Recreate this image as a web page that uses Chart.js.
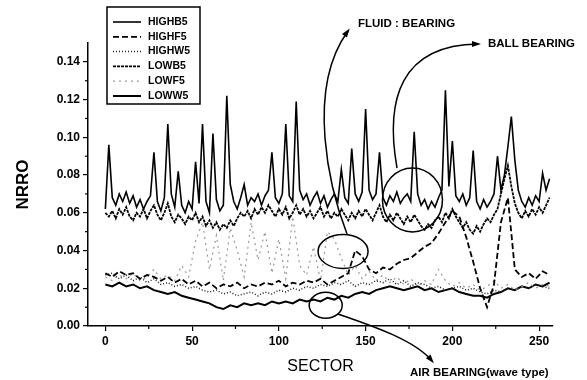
<!DOCTYPE html>
<html lang="en">
<head>
    <meta charset="UTF-8">
    <title>NRRO by sector</title>
    <script src="https://cdn.jsdelivr.net/npm/chart.js"></script>
    <style>
        * {
            box-sizing: border-box;
            margin: 0;
            padding: 0;
        }

        body {
            background-color: #fff;
        }

        canvas {
            display: block;
        }
    </style>
</head>
<body>
    <canvas id="nrroChart" width="587" height="380"></canvas>

    <script>
        // sector positions (every 2nd sector for the ball bearing runs, every 4th for the rest)
        const sectorsFine = Array.from({ length: 129 }, (_, i) => i * 2);
        const sectorsCoarse = Array.from({ length: 65 }, (_, i) => i * 4);

        const xTicks = [0, 50, 100, 150, 200, 250];
        const yTicks = [0, 0.02, 0.04, 0.06, 0.08, 0.10, 0.12, 0.14];

        const highB5 = [
            0.062, 0.096, 0.068, 0.064, 0.070, 0.066, 0.071, 0.065, 0.069, 0.063,
            0.067, 0.062, 0.066, 0.069, 0.092, 0.066, 0.061, 0.068, 0.107, 0.070,
            0.063, 0.082, 0.064, 0.060, 0.066, 0.062, 0.087, 0.065, 0.107, 0.066,
            0.060, 0.102, 0.067, 0.061, 0.064, 0.122, 0.075, 0.066, 0.062, 0.068,
            0.075, 0.064, 0.068, 0.066, 0.070, 0.064, 0.069, 0.072, 0.092, 0.068,
            0.065, 0.070, 0.107, 0.069, 0.066, 0.119, 0.072, 0.067, 0.070, 0.064,
            0.068, 0.071, 0.065, 0.069, 0.063, 0.067, 0.070, 0.066, 0.083, 0.068,
            0.065, 0.094, 0.070, 0.066, 0.071, 0.115, 0.072, 0.067, 0.070, 0.092,
            0.068, 0.064, 0.069, 0.066, 0.071, 0.065, 0.068, 0.070, 0.066, 0.103,
            0.070, 0.064, 0.067, 0.062, 0.066, 0.063, 0.068, 0.072, 0.125, 0.074,
            0.098, 0.069, 0.066, 0.070, 0.064, 0.068, 0.093, 0.066, 0.062, 0.067,
            0.063, 0.066, 0.070, 0.090, 0.072, 0.080, 0.095, 0.111, 0.088, 0.072,
            0.066, 0.063, 0.068, 0.064, 0.069, 0.066, 0.081, 0.072, 0.078
        ];

        const lowB5 = [
            0.060, 0.058, 0.061, 0.057, 0.062, 0.059, 0.063, 0.058, 0.056, 0.060,
            0.058, 0.062, 0.057, 0.061, 0.064, 0.059, 0.056, 0.060, 0.065, 0.058,
            0.055, 0.059, 0.057, 0.054, 0.058, 0.056, 0.060, 0.055, 0.058, 0.053,
            0.056, 0.052, 0.055, 0.051, 0.054, 0.052, 0.056, 0.053, 0.057, 0.060,
            0.058, 0.061, 0.057, 0.062, 0.059, 0.063, 0.060, 0.064, 0.061, 0.058,
            0.062, 0.059, 0.063, 0.057, 0.060, 0.064, 0.059, 0.062, 0.058, 0.061,
            0.057, 0.060, 0.063, 0.058, 0.061, 0.057, 0.060, 0.058, 0.062, 0.059,
            0.056, 0.060, 0.057, 0.061, 0.058, 0.062, 0.059, 0.056, 0.060, 0.064,
            0.058, 0.055, 0.059, 0.056, 0.060, 0.057, 0.054, 0.058, 0.055, 0.059,
            0.056, 0.053, 0.051, 0.054, 0.052, 0.056, 0.058, 0.055, 0.060, 0.057,
            0.062, 0.058, 0.055, 0.052, 0.055, 0.051, 0.049, 0.053, 0.050, 0.054,
            0.057, 0.055, 0.059, 0.062, 0.070, 0.078, 0.085, 0.074, 0.065, 0.060,
            0.057, 0.061, 0.058, 0.062, 0.059, 0.063, 0.060, 0.064, 0.068
        ];

        const highF5 = [
            0.028, 0.026, 0.029, 0.027, 0.028, 0.025, 0.027, 0.026, 0.024, 0.026,
            0.023, 0.025, 0.022, 0.024, 0.021, 0.023, 0.020, 0.022, 0.021, 0.023,
            0.020, 0.022, 0.021, 0.023, 0.022, 0.024, 0.021, 0.023, 0.022, 0.024,
            0.023, 0.025, 0.022, 0.024, 0.026, 0.028, 0.040, 0.037, 0.030, 0.028,
            0.031, 0.030, 0.033, 0.035, 0.036, 0.039, 0.042, 0.044, 0.049, 0.055,
            0.061, 0.058, 0.047, 0.034, 0.020, 0.010, 0.022, 0.055, 0.068, 0.030,
            0.026, 0.028, 0.025, 0.029, 0.027
        ];

        const lowF5 = [
            0.026, 0.024, 0.027, 0.025, 0.028, 0.024, 0.026, 0.030, 0.025, 0.027,
            0.024, 0.032, 0.026, 0.045, 0.055, 0.030, 0.048, 0.024, 0.052, 0.040,
            0.026, 0.055, 0.035, 0.050, 0.028, 0.046, 0.025, 0.058, 0.032, 0.027,
            0.042, 0.024, 0.050, 0.046, 0.036, 0.027, 0.032, 0.025, 0.029, 0.024,
            0.027, 0.023, 0.026, 0.022, 0.025, 0.021, 0.024, 0.022, 0.030, 0.024,
            0.021, 0.023, 0.020, 0.022, 0.019, 0.021, 0.024, 0.020, 0.022, 0.019,
            0.021, 0.023, 0.020, 0.022, 0.021
        ];

        const highW5 = [
            0.027, 0.028, 0.025, 0.027, 0.024, 0.026, 0.023, 0.025, 0.022, 0.023,
            0.021, 0.022, 0.020, 0.021, 0.019, 0.018, 0.019, 0.017, 0.018, 0.016,
            0.017, 0.018, 0.016, 0.018, 0.017, 0.019, 0.018, 0.020, 0.019, 0.021,
            0.020, 0.022, 0.021, 0.023, 0.022, 0.024, 0.021, 0.023, 0.022, 0.024,
            0.023, 0.025, 0.022, 0.024, 0.021, 0.023, 0.022, 0.020, 0.021, 0.019,
            0.020, 0.021, 0.019, 0.020, 0.018, 0.017, 0.019, 0.018, 0.020, 0.019,
            0.021, 0.020, 0.022, 0.021, 0.020
        ];

        const lowW5 = [
            0.022, 0.021, 0.023, 0.021, 0.022, 0.020, 0.021, 0.019, 0.018, 0.017,
            0.018, 0.016, 0.015, 0.014, 0.013, 0.012, 0.010, 0.009, 0.011, 0.010,
            0.012, 0.011, 0.012, 0.011, 0.013, 0.012, 0.013, 0.012, 0.014, 0.013,
            0.014, 0.013, 0.015, 0.014, 0.016, 0.015, 0.017, 0.018, 0.017, 0.019,
            0.020, 0.021, 0.020, 0.019, 0.020, 0.021, 0.019, 0.020, 0.018, 0.019,
            0.020, 0.018, 0.017, 0.016, 0.016, 0.015, 0.017, 0.018, 0.020, 0.019,
            0.021, 0.020, 0.022, 0.021, 0.023
        ];

        const FONT = "'Liberation Sans', Arial, sans-serif";
        Chart.defaults.font.family = FONT;
        Chart.defaults.color = '#000';

        function points(xs, ys) {
            return xs.map((x, i) => ({ x: x, y: ys[i] }));
        }

        function series(label, xs, ys, color, width, dash) {
            return {
                label: label,
                data: points(xs, ys),
                borderColor: color,
                borderWidth: width,
                borderDash: dash,
                pointRadius: 0,
                fill: false,
                tension: 0
            };
        }

        // legend box, minor ticks and the hand drawn notes
        const notesPlugin = {
            id: 'notes',
            afterDraw(chart) {
                const ctx = chart.ctx;
                const x = chart.scales.x;
                const y = chart.scales.y;
                const area = chart.chartArea;

                ctx.save();
                ctx.strokeStyle = '#000';
                ctx.fillStyle = '#000';
                ctx.lineWidth = 1.2;

                // minor ticks
                [25, 75, 125, 175, 225].forEach(v => {
                    const px = x.getPixelForValue(v);
                    ctx.beginPath();
                    ctx.moveTo(px, area.bottom);
                    ctx.lineTo(px, area.bottom + 3);
                    ctx.stroke();
                });
                [0.01, 0.03, 0.05, 0.07, 0.09, 0.11, 0.13].forEach(v => {
                    const py = y.getPixelForValue(v);
                    ctx.beginPath();
                    ctx.moveTo(area.left, py);
                    ctx.lineTo(area.left - 3, py);
                    ctx.stroke();
                });

                // legend
                ctx.lineWidth = 1.5;
                ctx.strokeRect(107, 7, 93, 97);
                ctx.font = 'bold 10.5px ' + FONT;
                ctx.textBaseline = 'middle';
                chart.data.datasets.forEach((ds, i) => {
                    const ly = 22 + i * 14.8;
                    ctx.save();
                    ctx.strokeStyle = ds.borderColor;
                    ctx.lineWidth = ds.borderWidth;
                    ctx.setLineDash(ds.borderDash || []);
                    ctx.beginPath();
                    ctx.moveTo(113, ly);
                    ctx.lineTo(141, ly);
                    ctx.stroke();
                    ctx.restore();
                    ctx.fillText(ds.label, 148, ly);
                });

                // circled regions
                ctx.lineWidth = 1.5;
                const rings = [
                    { sector: 177, nrro: 0.0668, rx: 30, ry: 32 },
                    { sector: 137, nrro: 0.0395, rx: 25, ry: 17 },
                    { sector: 127, nrro: 0.011, rx: 16.5, ry: 13 }
                ];
                rings.forEach(r => {
                    ctx.beginPath();
                    ctx.ellipse(x.getPixelForValue(r.sector), y.getPixelForValue(r.nrro), r.rx, r.ry, 0, 0, Math.PI * 2);
                    ctx.stroke();
                });

                function arrow(p0, c1, c2, p1) {
                    ctx.beginPath();
                    ctx.moveTo(p0[0], p0[1]);
                    ctx.bezierCurveTo(c1[0], c1[1], c2[0], c2[1], p1[0], p1[1]);
                    ctx.stroke();
                    const a = Math.atan2(p1[1] - c2[1], p1[0] - c2[0]);
                    ctx.beginPath();
                    ctx.moveTo(p1[0] + 3 * Math.cos(a), p1[1] + 3 * Math.sin(a));
                    ctx.lineTo(p1[0] - 6 * Math.cos(a) + 3 * Math.sin(a), p1[1] - 6 * Math.sin(a) - 3 * Math.cos(a));
                    ctx.lineTo(p1[0] - 6 * Math.cos(a) - 3 * Math.sin(a), p1[1] - 6 * Math.sin(a) + 3 * Math.cos(a));
                    ctx.closePath();
                    ctx.fill();
                }

                arrow([347, 234], [330, 190], [305, 90], [348, 31]);
                arrow([397, 168], [385, 100], [400, 45], [478, 44]);
                arrow([338, 314], [370, 325], [415, 340], [432, 361]);

                ctx.font = 'bold 11.5px ' + FONT;
                ctx.textBaseline = 'middle';
                ctx.fillText('FLUID : BEARING', 358, 24);
                ctx.fillText('BALL BEARING', 488, 44);
                ctx.fillText('AIR BEARING(wave type)', 410, 373);
                ctx.restore();
            }
        };

        const ctx = document.getElementById('nrroChart').getContext('2d');
        const nrroChart = new Chart(ctx, {
            type: 'line',
            data: {
                datasets: [
                    series('HIGHB5', sectorsFine, highB5, '#000', 1.6, []),
                    series('HIGHF5', sectorsCoarse, highF5, '#000', 1.8, [6, 3]),
                    series('HIGHW5', sectorsCoarse, highW5, '#222', 1.5, [1, 2]),
                    series('LOWB5', sectorsFine, lowB5, '#000', 1.8, [3, 1]),
                    series('LOWF5', sectorsCoarse, lowF5, '#999', 1.2, [2, 4]),
                    series('LOWW5', sectorsCoarse, lowW5, '#000', 2, [])
                ]
            },
            options: {
                responsive: false,
                animation: false,
                layout: {
                    padding: { top: 43, right: 34, left: 0, bottom: 0 }
                },
                plugins: {
                    legend: { display: false },
                    tooltip: { enabled: false }
                },
                scales: {
                    x: {
                        type: 'linear',
                        min: -10,
                        max: 258,
                        afterFit: s => { s.height = 54; },
                        afterBuildTicks: s => { s.ticks = xTicks.map(v => ({ value: v })); },
                        grid: { drawOnChartArea: false, tickLength: 5, color: '#000', lineWidth: 1.2 },
                        border: { color: '#000', width: 1.5 },
                        ticks: { padding: 3, font: { size: 12, weight: 'bold' } },
                        title: {
                            display: true,
                            text: 'SECTOR',
                            font: { size: 16 },
                            padding: { top: 0, bottom: 4 }
                        }
                    },
                    y: {
                        min: 0,
                        max: 0.15,
                        afterFit: s => { s.width = 88; },
                        afterBuildTicks: s => { s.ticks = yTicks.map(v => ({ value: v })); },
                        grid: { drawOnChartArea: false, tickLength: 5, color: '#000', lineWidth: 1.2 },
                        border: { color: '#000', width: 1.5 },
                        ticks: {
                            padding: 3,
                            font: { size: 12, weight: 'bold' },
                            callback: v => v.toFixed(2)
                        },
                        title: {
                            display: true,
                            text: 'NRRO',
                            font: { size: 17, weight: 'bold' },
                            padding: { top: 13, bottom: 0 }
                        }
                    }
                }
            },
            plugins: [notesPlugin]
        });
    </script>
</body>
</html>
